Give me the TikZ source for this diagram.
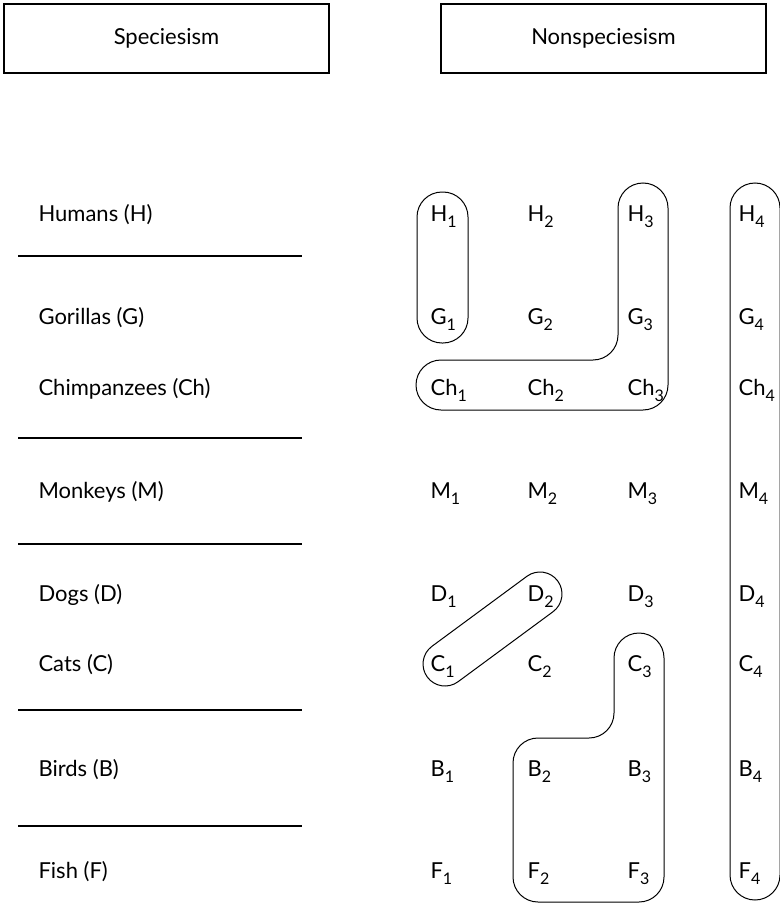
\documentclass[tikz,border=0pt]{standalone}
\usepackage{fontspec}
\setmainfont{Lato}
\usetikzlibrary{calc}

\newcommand{\grp}[2]{#1\raisebox{-0.28em}{\fontsize{16}{16}\selectfont #2}}

\begin{document}
\begin{tikzpicture}[x=1pt,y=-1pt,line width=1.1pt,
    font=\fontsize{22}{26}\selectfont,
    headbox/.style={draw,minimum width=325pt,minimum height=69pt,inner sep=0pt},
    rowlabel/.style={anchor=base west,inner sep=0pt},
    cell/.style={anchor=base west,inner sep=0pt},
    loop/.style={line width=1pt,rounded corners=25pt}]
  \useasboundingbox (0,0) rectangle (779,904);

  % the two headings
  \node[headbox] (spec) at (166.5,38.5) {Speciesism};
  \node[headbox] (nonspec) at (603.5,38.5) {Nonspeciesism};

  % species on the left, with the rules between the groups
  \foreach \nm/\txt/\y in {hum/Humans (H)/221, gor/Gorillas (G)/324,
      chi/Chimpanzees (Ch)/395, mon/Monkeys (M)/498, dog/Dogs (D)/601,
      cat/Cats (C)/671, bir/Birds (B)/776, fis/Fish (F)/878}
    \node[rowlabel] (\nm) at (38,\y) {\txt};
  \foreach \y in {256,438,544,710,826}
    \draw (18,\y) -- (302,\y);

  % the grid of groups
  \foreach \r/\y in {H/221, G/324, Ch/395, M/498, D/601, C/671, B/776, F/878}
    \foreach \c/\x in {1/430, 2/527, 3/627, 4/738}
      \node[cell] (\r\c) at (\x,\y) {\grp{\r}{\c}};

  % H1 and G1
  \draw[loop] (417,192) rectangle (468,343);

  % H3, G3 and the chimpanzees
  \draw[loop] (668,300) -- (668,410) -- (416,410) -- (416,360)
    -- (618,360) -- (618,183) -- (668,183) -- (668,300);

  % D2 and C1, slanting
  \begin{scope}[shift={(492.5,629)},rotate=36.4]
    \draw[line width=1pt,rounded corners=22pt] (-81,-22) rectangle (81,22);
  \end{scope}

  % C3 down to the birds and fish
  \draw[loop] (664,780) -- (664,902) -- (513,902) -- (513,738)
    -- (614,738) -- (614,633) -- (664,633) -- (664,780);

  % the whole fourth column
  \draw[loop] (730,183) rectangle (780,900);
\end{tikzpicture}
\end{document}
